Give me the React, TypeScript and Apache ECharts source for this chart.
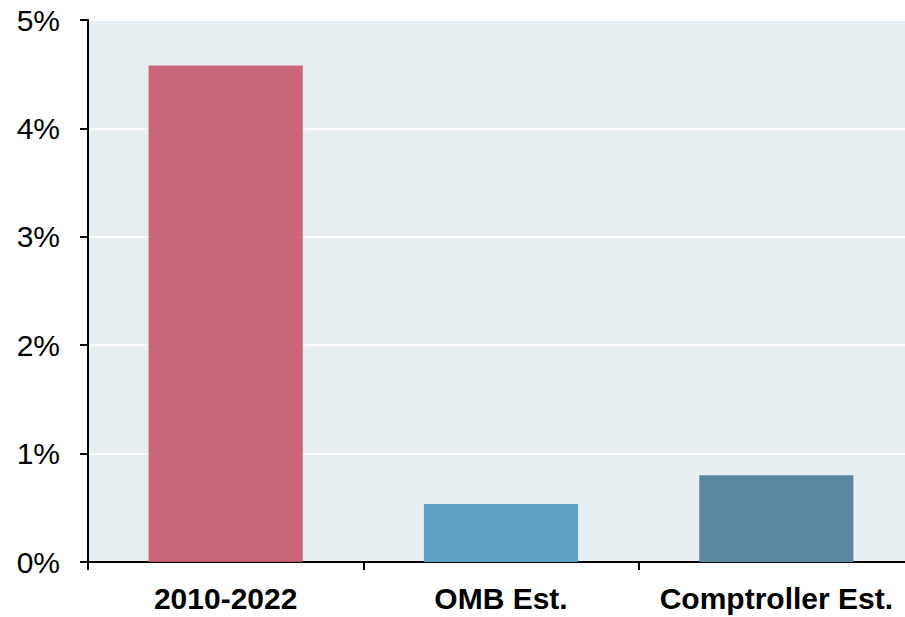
import React, { useEffect, useRef } from "react";
import * as echarts from "echarts";

const categories = ["2010-2022", "OMB Est.", "Comptroller Est."];
const values = [4.58, 0.535, 0.8];
const barColors = ["rgba(198,87,109,0.9)", "#5CA0C4", "#5C87A0"];
const yTicks = [0, 1, 2, 3, 4, 5];

export default function App() {
  const ref = useRef<HTMLDivElement>(null);
  useEffect(() => {
    if (!ref.current) return;
    const chart = echarts.init(ref.current, null, { renderer: "svg" });
    chart.setOption({
      animation: false,
      grid: {
        left: 88,
        top: 20,
        right: 0,
        bottom: 55,
        show: true,
        backgroundColor: "#E7EFF2",
        borderWidth: 0,
      },
      xAxis: {
        type: "category",
        data: categories,
        axisLine: { show: true, lineStyle: { color: "#000", width: 2 } },
        axisTick: { show: true, interval: 0, length: 8, lineStyle: { color: "#000", width: 2 } },
        axisLabel: {
          interval: 0,
          hideOverlap: false,
          color: "#000",
          fontFamily: "Liberation Sans, Arial, sans-serif",
          fontWeight: "bold",
          fontSize: 30,
          margin: 21,
        },
      },
      yAxis: {
        type: "value",
        min: yTicks[0],
        max: yTicks[yTicks.length - 1],
        interval: 1,
        axisLine: { show: true, lineStyle: { color: "#000", width: 2 } },
        axisTick: { show: true, length: 8, lineStyle: { color: "#000", width: 2 } },
        axisLabel: {
          color: "#000",
          fontFamily: "Liberation Sans, Arial, sans-serif",
          fontSize: 30,
          margin: 28,
          formatter: (v: number) => `${v}%`,
        },
        splitLine: {
          show: true,
          lineStyle: { color: "#FFFFFF", width: 2 },
        },
      },
      series: [
        {
          type: "bar",
          barWidth: "56%",
          data: values.map((v, i) => ({ value: v, itemStyle: { color: barColors[i] } })),
        },
      ],
    });
    return () => chart.dispose();
  }, []);
  return (
    <div
      style={{ position: "fixed", left: 0, top: 0, width: 905, height: 617, overflow: "hidden", background: "#fff" }}
    >
      <div ref={ref} style={{ width: 914, height: 617 }} />
    </div>
  );
}
